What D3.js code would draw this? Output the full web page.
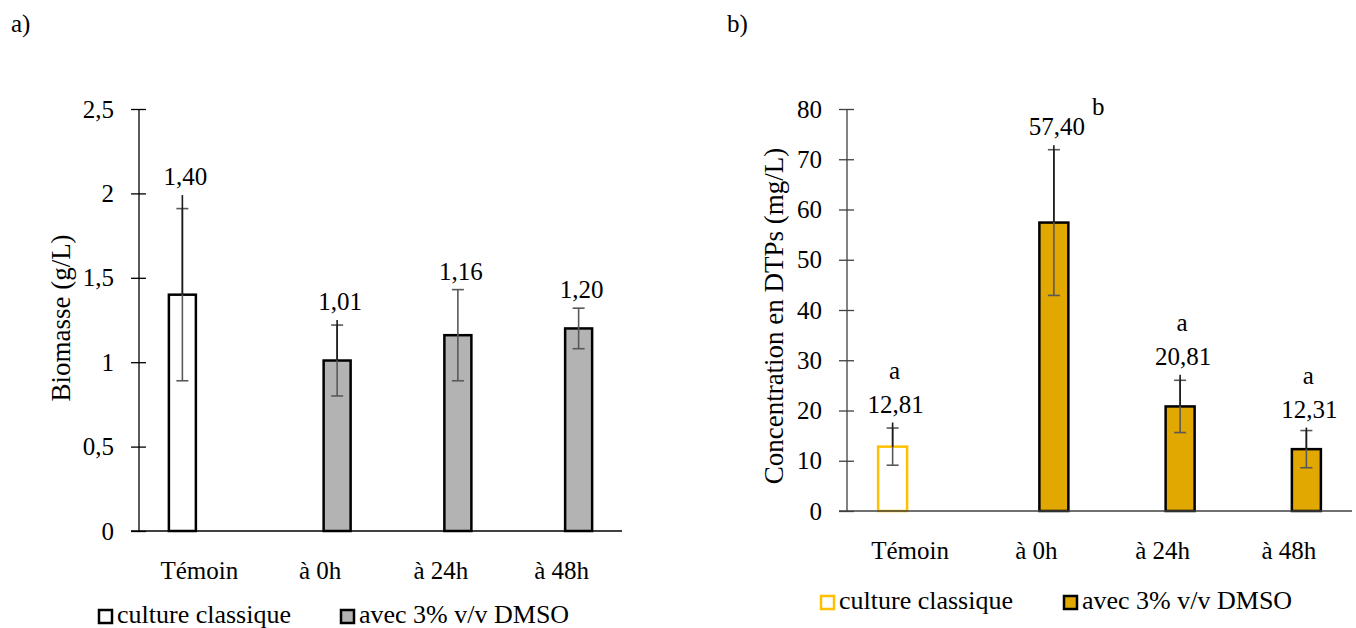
<!DOCTYPE html>
<html>
<head>
<meta charset="utf-8">
<script src="https://cdn.jsdelivr.net/npm/d3@7"></script>
<style>
  html, body { margin: 0; padding: 0; background: #fff; }
  svg { display: block; }
  svg text { font-family: "Liberation Serif", Tinos, "Times New Roman", Times, "DejaVu Serif", "Noto Serif", serif !important; fill: #000; }
</style>
</head>
<body>
<svg id="chart" width="1356" height="628"></svg>
<script>
// ---------- data ----------
const categories = ["Témoin", "à 0h", "à 24h", "à 48h"];
const seriesNames = ["culture classique", "avec 3% v/v DMSO"];
const seriesOfBar = [0, 1, 1, 1];

// a) Biomasse (g/L)
const biomasse = [1.40, 1.01, 1.16, 1.20];
const biomasseErr = [0.51, 0.21, 0.27, 0.12];          // ± (grey, capped)
const biomasseErrUpper = [0.59, 0.24, null, null];      // upper stem (dark, no cap)
const biomasseTicks = [0, 0.5, 1, 1.5, 2, 2.5];

// b) Concentration en DTPs (mg/L)
const dtp = [12.81, 57.40, 20.81, 12.31];
const dtpErr = [3.7, 14.5, 5.2, 3.7];
const dtpErrUpper = [4.8, 15.4, 6.3, 4.3];
const dtpTicks = [0, 10, 20, 30, 40, 50, 60, 70, 80];
const dtpLetters = ["a", "b", "a", "a"];

// ---------- helpers ----------
const FONT = '"Liberation Serif", Tinos, "Times New Roman", Times, "DejaVu Serif", "Noto Serif", serif';
const fr = d3.formatLocale({decimal: ",", thousands: " ", grouping: [3], currency: ["", " €"]});
const fmtVal = fr.format(".2f");
const fmtTick = fr.format(".1~f");

const svg = d3.select("#chart").attr("font-family", FONT);

function drawChart(cfg) {
  const g = svg.append("g").attr("font-family", FONT);
  const y = d3.scaleLinear().domain(cfg.domain).range([cfg.y0, cfg.y1]);
  const x0 = d3.scaleBand().domain(categories).range([cfg.xLeft, cfg.xRight]).padding(0);
  const x1 = d3.scaleBand().domain([0, 1]).range([-cfg.sub, cfg.sub]).padding(0);
  const cx = i => x0(categories[i]) + x0.bandwidth() / 2 + x1(seriesOfBar[i]) + x1.bandwidth() / 2;

  // y axis
  const yAxis = d3.axisLeft(y).tickValues(cfg.ticks).tickFormat(fmtTick).tickSize(0).tickPadding(25);
  const ya = g.append("g").attr("transform", `translate(${cfg.xLeft},0)`).call(yAxis)
    .attr("font-family", FONT).attr("font-size", 25);
  ya.select(".domain").remove();
  ya.selectAll("text").attr("fill", "#000");
  ya.selectAll(".tick").append("line")
    .attr("x1", -8).attr("x2", 7).attr("stroke", cfg.axisColor).attr("stroke-width", 1.3);
  g.append("line").attr("x1", cfg.xLeft).attr("x2", cfg.xLeft)
    .attr("y1", y(cfg.domain[1])).attr("y2", y(0))
    .attr("stroke", cfg.axisColor).attr("stroke-width", 1.3);

  // bars
  g.selectAll("rect.bar").data(cfg.values).join("rect")
    .attr("class", "bar")
    .attr("x", (d, i) => cx(i) - cfg.barW / 2)
    .attr("width", cfg.barW)
    .attr("y", d => y(d))
    .attr("height", d => y(0) - y(d))
    .attr("fill", (d, i) => cfg.fills[seriesOfBar[i]])
    .attr("stroke", (d, i) => cfg.strokes[seriesOfBar[i]])
    .attr("stroke-width", 2.5);

  // x axis
  const xAxis = d3.axisBottom(x0).tickSize(0).tickPadding(30);
  const xa = g.append("g").attr("transform", `translate(0,${y(0)})`).call(xAxis)
    .attr("font-family", FONT).attr("font-size", 25);
  xa.select(".domain").remove();
  xa.selectAll("text").attr("fill", "#000").attr("dy", "0.71em");
  g.append("line").attr("x1", cfg.xLeft - 8).attr("x2", cfg.xRight)
    .attr("y1", y(0)).attr("y2", y(0))
    .attr("stroke", cfg.axisColor).attr("stroke-width", 1.5);

  // error bars and labels
  cfg.values.forEach((v, i) => {
    const e = cfg.err[i];
    const xc = cx(i);
    g.append("line").attr("x1", xc).attr("x2", xc).attr("y1", y(v + e)).attr("y2", y(v - e))
      .attr("stroke", "#595959").attr("stroke-width", 1.6);
    [v + e, v - e].forEach(t => {
      g.append("line").attr("x1", xc - 6).attr("x2", xc + 6).attr("y1", y(t)).attr("y2", y(t))
        .attr("stroke", "#595959").attr("stroke-width", 1.6);
    });
    const u = cfg.errUpper[i];
    if (u != null) {
      g.append("line").attr("x1", xc).attr("x2", xc).attr("y1", y(v + u)).attr("y2", y(v))
        .attr("stroke", "#1a1a1a").attr("stroke-width", 1.6);
    }
    const top = Math.max(v + e, u != null ? v + u : -Infinity);
    const by = y(top) - 10;
    g.append("text").attr("x", xc + 3).attr("y", by).attr("text-anchor", "middle")
      .attr("font-size", 25).text(fmtVal(v));
    if (cfg.letters) {
      const L = cfg.letters[i];
      if (L === "b") {
        g.append("text").attr("x", xc + 38).attr("y", by - 20).attr("text-anchor", "start")
          .attr("font-size", 25).text(L);
      } else {
        g.append("text").attr("x", xc + 2).attr("y", by - 34).attr("text-anchor", "middle")
          .attr("font-size", 25).text(L);
      }
    }
  });

  // y title
  g.append("text")
    .attr("transform", `translate(${cfg.titleX},${cfg.titleY}) rotate(-90)`)
    .attr("text-anchor", "middle").attr("font-size", cfg.titleSize).text(cfg.title);

  // panel label
  g.append("text").attr("x", cfg.panelX).attr("y", 32).attr("font-size", 25).text(cfg.panel);

  // legend
  seriesNames.forEach((s, k) => {
    const lx = cfg.legendX[k];
    g.append("rect").attr("x", lx).attr("y", cfg.legendY - 13).attr("width", 13).attr("height", 13)
      .attr("fill", cfg.fills[k]).attr("stroke", cfg.strokes[k]).attr("stroke-width", 2.5);
    g.append("text").attr("x", lx + 18).attr("y", cfg.legendY).attr("font-size", 26).text(s);
  });
}

drawChart({
  values: biomasse, err: biomasseErr, errUpper: biomasseErrUpper,
  domain: [0, 2.5], ticks: biomasseTicks, y0: 531, y1: 109,
  xLeft: 139, xRight: 622, sub: 34, barW: 27,
  fills: ["#ffffff", "#b3b3b3"], strokes: ["#000000", "#000000"],
  axisColor: "#000000",
  title: "Biomasse (g/L)", titleX: 70, titleY: 318, titleSize: 27,
  panel: "a)", panelX: 11,
  legendX: [99, 341], legendY: 623
});

drawChart({
  values: dtp, err: dtpErr, errUpper: dtpErrUpper, letters: dtpLetters,
  domain: [0, 80], ticks: dtpTicks, y0: 511, y1: 109,
  xLeft: 847, xRight: 1352, sub: 35, barW: 29,
  fills: ["#ffffff", "#e0a800"], strokes: ["#ffc000", "#000000"],
  axisColor: "#404040",
  title: "Concentration en DTPs (mg/L)", titleX: 783, titleY: 316, titleSize: 27,
  panel: "b)", panelX: 727,
  legendX: [821, 1064], legendY: 609
});
</script>
</body>
</html>
